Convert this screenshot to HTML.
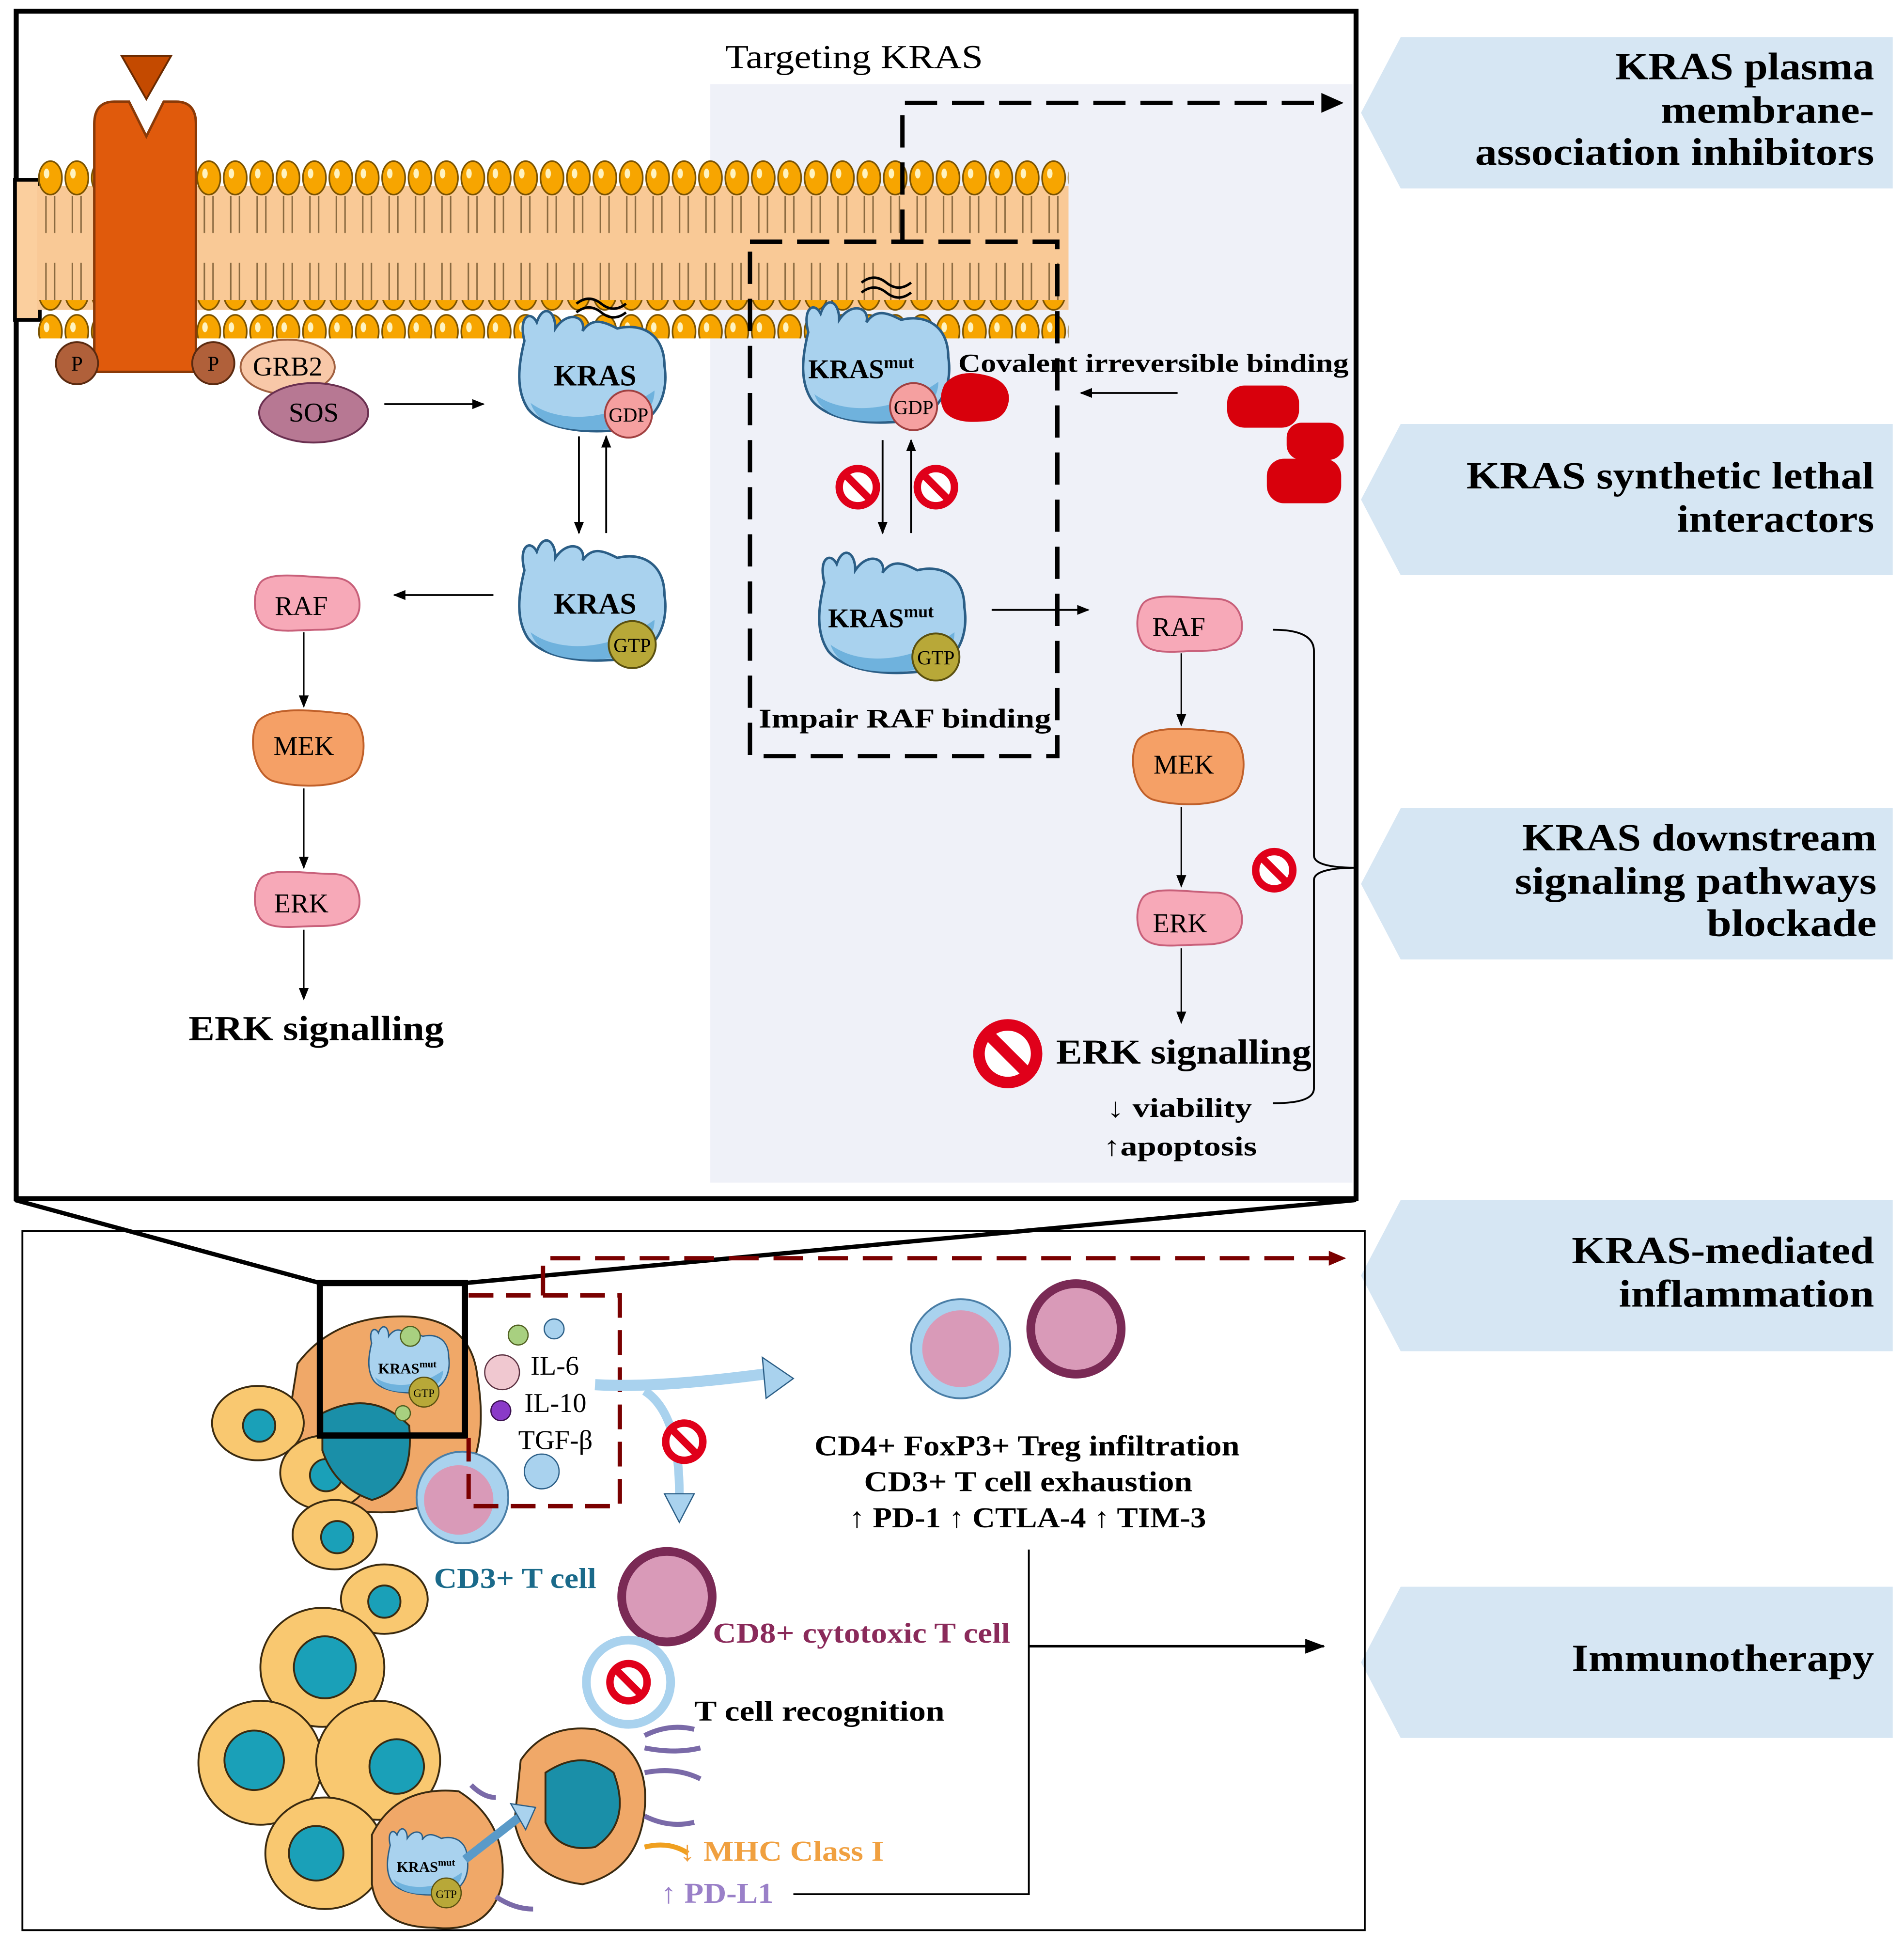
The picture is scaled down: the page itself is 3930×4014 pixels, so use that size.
<!DOCTYPE html>
<html><head><meta charset="utf-8"><style>
html,body{margin:0;padding:0;background:#fff;}
svg{display:block;}
text{font-family:"Liberation Serif",serif;}
</style></head><body>
<svg width="3930" height="4014" viewBox="0 0 1536 1569" xmlns="http://www.w3.org/2000/svg">
<defs>
<pattern id="heads" x="30" y="128" width="21.3" height="31" patternUnits="userSpaceOnUse">
<ellipse cx="10.6" cy="15.5" rx="9.3" ry="13.5" fill="#f7a500" stroke="#7a5200" stroke-width="1.3"/>
<ellipse cx="7.5" cy="12" rx="2.2" ry="4" fill="#fff3c0"/>
</pattern>
<pattern id="tails" x="30" y="158" width="21.3" height="84" patternUnits="userSpaceOnUse">
<path d="M7 0 V30 M14 0 V30 M7 54 V84 M14 54 V84" stroke="#8a6a40" stroke-width="1.2" fill="none"/>
</pattern>
<marker id="ar" markerWidth="10" markerHeight="10" refX="9" refY="5" orient="auto" markerUnits="userSpaceOnUse"><path d="M0 1 L10 5 L0 9 z" fill="#000"/></marker>
<marker id="arR" markerWidth="14" markerHeight="14" refX="13" refY="7" orient="auto" markerUnits="userSpaceOnUse"><path d="M0 1 L14 7 L0 13 z" fill="#7a0000"/></marker>
<marker id="arB" markerWidth="16" markerHeight="14" refX="15" refY="7" orient="auto" markerUnits="userSpaceOnUse"><path d="M0 1 L16 7 L0 13 z" fill="#000"/></marker>
<g id="kras">
<path d="M-55 -30 C-60 -50 -50 -55 -45 -45 C-40 -60 -30 -55 -30 -40 C-20 -55 -5 -50 -8 -38 C0 -50 10 -45 20 -40 C40 -45 58 -35 58 -10 C62 15 50 40 20 42 C-10 45 -40 40 -52 25 C-62 10 -60 -10 -55 -30 Z" fill="#a9d2ee" stroke="#2b5e86" stroke-width="2"/>
<path d="M-50 20 C-30 35 10 38 50 10 C50 30 30 42 0 42 C-30 42 -45 35 -50 20Z" fill="#6fb2dd"/>
</g>
<g id="stop"><circle r="15" fill="#fff" stroke="#e0001a" stroke-width="6"/><path d="M-10 -10 L10 10" stroke="#e0001a" stroke-width="6"/></g>
<g id="raf"><path d="M-38 -18 C-30 -28 0 -22 20 -22 C38 -22 42 -8 42 0 C42 14 30 20 10 20 C-10 20 -30 24 -38 14 C-44 6 -44 -10 -38 -18Z" fill="#f7a9b8" stroke="#c8607a" stroke-width="1.5"/></g>
<g id="mek"><path d="M-42 -20 C-30 -34 10 -28 30 -26 C46 -20 46 8 38 20 C28 34 -10 34 -30 28 C-46 22 -50 -8 -42 -20Z" fill="#f5a066" stroke="#c0602a" stroke-width="1.5"/></g>
</defs>

<!-- top box -->
<rect x="573" y="68" width="518" height="886" fill="#eff1f8"/>
<rect x="13" y="9" width="1081" height="958" fill="none" stroke="#000" stroke-width="4"/>
<text x="585" y="55" font-size="27" textLength="208" lengthAdjust="spacingAndGlyphs">Targeting KRAS</text>

<!-- membrane -->
<rect x="12" y="145" width="20" height="113" fill="#fbcf9e" stroke="#000" stroke-width="3"/>
<rect x="30" y="150" width="832" height="100" fill="#f9c996"/>
<rect x="30" y="158" width="832" height="84" fill="url(#tails)"/>
<rect x="30" y="128" width="832" height="31" fill="url(#heads)"/>
<rect x="30" y="242" width="832" height="31" fill="url(#heads)"/>

<!-- receptor -->
<path d="M76 100 Q76 82 92 82 L104 82 L118 110 L132 82 L142 82 Q158 82 158 100 L158 300 L76 300 Z" fill="#e05a0c" stroke="#8a3a08" stroke-width="2"/>
<path d="M98 45 L138 45 L118 80 Z" fill="#c44a00" stroke="#6a2a00" stroke-width="1.5"/>
<circle cx="62" cy="293" r="17" fill="#b0603a" stroke="#5a2a10" stroke-width="1.5"/><text x="62" y="299" font-size="17" text-anchor="middle">P</text>
<circle cx="172" cy="293" r="17" fill="#b0603a" stroke="#5a2a10" stroke-width="1.5"/><text x="172" y="299" font-size="17" text-anchor="middle">P</text>
<ellipse cx="232" cy="296" rx="38" ry="22" fill="#f8c8a8" stroke="#a06040" stroke-width="1.5"/><text x="232" y="303" font-size="22" text-anchor="middle">GRB2</text>
<ellipse cx="253" cy="333" rx="44" ry="24" fill="#b77893" stroke="#6a3050" stroke-width="1.5"/><text x="253" y="340" font-size="22" text-anchor="middle">SOS</text>
<line x1="310" y1="326" x2="390" y2="326" stroke="#000" stroke-width="1.5" marker-end="url(#ar)"/>

<!-- KRAS GDP -->
<path d="M465 245 q10 -8 20 0 q10 8 20 0 M465 252 q10 -8 20 0 q10 8 20 0" stroke="#000" stroke-width="2" fill="none"/>
<use href="#kras" transform="translate(478 305)"/>
<text x="480" y="311" font-size="24" font-weight="bold" text-anchor="middle">KRAS</text>
<circle cx="507" cy="334" r="19" fill="#f5a0a0" stroke="#a04040" stroke-width="1.5"/><text x="507" y="340" font-size="16" text-anchor="middle">GDP</text>
<line x1="467" y1="352" x2="467" y2="430" stroke="#000" stroke-width="1.5" marker-end="url(#ar)"/>
<line x1="489" y1="430" x2="489" y2="352" stroke="#000" stroke-width="1.5" marker-end="url(#ar)"/>
<use href="#kras" transform="translate(478 490)"/>
<text x="480" y="495" font-size="24" font-weight="bold" text-anchor="middle">KRAS</text>
<circle cx="510" cy="520" r="19" fill="#b8a838" stroke="#5a5010" stroke-width="1.5"/><text x="510" y="526" font-size="16" text-anchor="middle">GTP</text>
<line x1="398" y1="480" x2="318" y2="480" stroke="#000" stroke-width="1.5" marker-end="url(#ar)"/>

<!-- left cascade -->
<use href="#raf" transform="translate(248 488)"/><text x="243" y="496" font-size="22" text-anchor="middle">RAF</text>
<line x1="245" y1="510" x2="245" y2="570" stroke="#000" stroke-width="1.2" marker-end="url(#ar)"/>
<use href="#mek" transform="translate(250 602)"/><text x="245" y="609" font-size="22" text-anchor="middle">MEK</text>
<line x1="245" y1="636" x2="245" y2="700" stroke="#000" stroke-width="1.2" marker-end="url(#ar)"/>
<use href="#raf" transform="translate(248 727)"/><text x="243" y="736" font-size="22" text-anchor="middle">ERK</text>
<line x1="245" y1="750" x2="245" y2="806" stroke="#000" stroke-width="1.2" marker-end="url(#ar)"/>
<text x="152" y="839" font-size="28" font-weight="bold" textLength="206" lengthAdjust="spacingAndGlyphs">ERK signalling</text>

<!-- right dashed -->
<path d="M605 195 H853 V610 H605 Z" fill="none" stroke="#000" stroke-width="3.5" stroke-dasharray="26 12"/>
<path d="M728 195 V83 H1072" fill="none" stroke="#000" stroke-width="3.5" stroke-dasharray="26 12"/>
<path d="M1066 75 L1084 83 L1066 91Z" fill="#000"/>
<path d="M695 228 q10 -8 20 0 q10 8 20 0 M695 236 q10 -8 20 0 q10 8 20 0" stroke="#000" stroke-width="2" fill="none"/>
<use href="#kras" transform="translate(707 298)"/>
<text x="652" y="305" font-size="22" font-weight="bold">KRAS<tspan font-size="14" dy="-8">mut</tspan></text>
<circle cx="737" cy="328" r="19" fill="#f5a0a0" stroke="#a04040" stroke-width="1.5"/><text x="737" y="334" font-size="16" text-anchor="middle">GDP</text>
<path d="M762 310 q10 -12 30 -8 q22 4 22 20 q-2 18 -22 18 q-22 2 -30 -8 q-6 -10 0 -22Z" fill="#d8000c"/>
<text x="773" y="300" font-size="21" font-weight="bold" textLength="315" lengthAdjust="spacingAndGlyphs">Covalent irreversible binding</text>
<line x1="950" y1="317" x2="872" y2="317" stroke="#000" stroke-width="1.5" marker-end="url(#ar)"/>
<rect x="990" y="311" width="58" height="34" rx="14" fill="#d8000c"/>
<rect x="1038" y="341" width="46" height="30" rx="12" fill="#d8000c"/>
<rect x="1022" y="370" width="60" height="36" rx="14" fill="#d8000c"/>
<use href="#stop" transform="translate(692 393)"/>
<use href="#stop" transform="translate(755 393)"/>
<line x1="712" y1="355" x2="712" y2="430" stroke="#000" stroke-width="1.5" marker-end="url(#ar)"/>
<line x1="735" y1="430" x2="735" y2="355" stroke="#000" stroke-width="1.5" marker-end="url(#ar)"/>
<use href="#kras" transform="translate(720 500)"/>
<text x="668" y="506" font-size="22" font-weight="bold">KRAS<tspan font-size="14" dy="-8">mut</tspan></text>
<circle cx="755" cy="530" r="19" fill="#b8a838" stroke="#5a5010" stroke-width="1.5"/><text x="755" y="536" font-size="16" text-anchor="middle">GTP</text>
<text x="612" y="587" font-size="22" font-weight="bold" textLength="236" lengthAdjust="spacingAndGlyphs">Impair RAF binding</text>
<line x1="800" y1="492" x2="878" y2="492" stroke="#000" stroke-width="1.5" marker-end="url(#ar)"/>

<use href="#raf" transform="translate(960 505)"/><text x="951" y="513" font-size="22" text-anchor="middle">RAF</text>
<line x1="953" y1="527" x2="953" y2="585" stroke="#000" stroke-width="1.2" marker-end="url(#ar)"/>
<use href="#mek" transform="translate(960 617)"/><text x="955" y="624" font-size="22" text-anchor="middle">MEK</text>
<line x1="953" y1="651" x2="953" y2="715" stroke="#000" stroke-width="1.2" marker-end="url(#ar)"/>
<use href="#raf" transform="translate(960 742)"/><text x="952" y="752" font-size="22" text-anchor="middle">ERK</text>
<line x1="953" y1="765" x2="953" y2="825" stroke="#000" stroke-width="1.2" marker-end="url(#ar)"/>
<use href="#stop" transform="translate(1028 702)"/>
<g transform="translate(813 850) scale(1.55)"><use href="#stop"/></g>
<text x="852" y="858" font-size="28" font-weight="bold" textLength="206" lengthAdjust="spacingAndGlyphs">ERK signalling</text>
<text x="893" y="901" font-size="22" font-weight="bold" textLength="117" lengthAdjust="spacingAndGlyphs">↓ viability</text>
<text x="890" y="932" font-size="22" font-weight="bold" textLength="124" lengthAdjust="spacingAndGlyphs">↑apoptosis</text>
<path d="M1027 508 Q1060 508 1060 525 V690 Q1060 700 1095 700 Q1060 700 1060 710 V878 Q1060 890 1027 890" fill="none" stroke="#000" stroke-width="1.5"/>

<!-- right labels -->
<g fill="#d6e6f3">
<polygon points="1130,30 1527,30 1527,152 1130,152 1098,91"/>
<polygon points="1130,342 1527,342 1527,464 1130,464 1098,403"/>
<polygon points="1130,652 1527,652 1527,774 1130,774 1098,713"/>
<polygon points="1130,968 1527,968 1527,1090 1130,1090 1098,1029"/>
<polygon points="1130,1280 1527,1280 1527,1402 1130,1402 1098,1341"/>
</g>
<g font-size="31" font-weight="bold" text-anchor="end">
<text x="1512" y="64" textLength="209" lengthAdjust="spacingAndGlyphs">KRAS plasma</text>
<text x="1512" y="99" textLength="172" lengthAdjust="spacingAndGlyphs">membrane-</text>
<text x="1512" y="133" textLength="322" lengthAdjust="spacingAndGlyphs">association inhibitors</text>
<text x="1512" y="394" textLength="329" lengthAdjust="spacingAndGlyphs">KRAS synthetic lethal</text>
<text x="1512" y="429" textLength="159" lengthAdjust="spacingAndGlyphs">interactors</text>
<text x="1514" y="686" textLength="286" lengthAdjust="spacingAndGlyphs">KRAS downstream</text>
<text x="1514" y="721" textLength="292" lengthAdjust="spacingAndGlyphs">signaling pathways</text>
<text x="1514" y="755" textLength="137" lengthAdjust="spacingAndGlyphs">blockade</text>
<text x="1512" y="1019" textLength="244" lengthAdjust="spacingAndGlyphs">KRAS-mediated</text>
<text x="1512" y="1054" textLength="206" lengthAdjust="spacingAndGlyphs">inflammation</text>
<text x="1512" y="1348" textLength="244" lengthAdjust="spacingAndGlyphs">Immunotherapy</text>
</g>

<!-- bottom box -->
<rect x="18" y="993" width="1083" height="564" fill="none" stroke="#000" stroke-width="1.5"/>
<line x1="12" y1="968" x2="258" y2="1035" stroke="#000" stroke-width="3.5"/>
<line x1="1094" y1="968" x2="375" y2="1035" stroke="#000" stroke-width="3.5"/>

<!-- cells -->
<g stroke="#3a2a10" stroke-width="1.5">
<path d="M240 1100 Q270 1060 330 1062 Q380 1065 385 1110 Q395 1170 370 1200 Q330 1230 270 1215 Q230 1190 232 1150 Z" fill="#f0a868"/>
<ellipse cx="208" cy="1148" rx="37" ry="30" fill="#f9c870"/><circle cx="209" cy="1150" r="13" fill="#1aa0b8"/>
<ellipse cx="262" cy="1188" rx="36" ry="30" fill="#f9c870"/><circle cx="263" cy="1190" r="13" fill="#1aa0b8"/>
<ellipse cx="270" cy="1238" rx="34" ry="28" fill="#f9c870"/><circle cx="272" cy="1240" r="13" fill="#1aa0b8"/>
<ellipse cx="310" cy="1290" rx="35" ry="28" fill="#f9c870"/><circle cx="310" cy="1292" r="13" fill="#1aa0b8"/>
<ellipse cx="260" cy="1345" rx="50" ry="48" fill="#f9c870"/><circle cx="262" cy="1345" r="25" fill="#1aa0b8"/>
<ellipse cx="210" cy="1422" rx="50" ry="50" fill="#f9c870"/><circle cx="205" cy="1420" r="24" fill="#1aa0b8"/>
<ellipse cx="305" cy="1420" rx="50" ry="48" fill="#f9c870"/><circle cx="320" cy="1425" r="22" fill="#1aa0b8"/>
<ellipse cx="262" cy="1495" rx="48" ry="45" fill="#f9c870"/><circle cx="255" cy="1495" r="22" fill="#1aa0b8"/>
<path d="M300 1480 Q320 1440 370 1445 Q410 1470 405 1520 Q395 1560 350 1555 Q305 1555 300 1520 Z" fill="#f0a868"/>
<path d="M420 1420 Q440 1390 480 1395 Q525 1410 520 1460 Q515 1510 470 1520 Q425 1515 415 1470 Z" fill="#f0a868"/>
<path d="M440 1430 Q470 1410 495 1430 Q510 1470 480 1490 Q450 1495 440 1470 Z" fill="#1a8fa8"/>
<path d="M260 1140 Q300 1120 330 1150 Q335 1200 300 1210 Q270 1200 260 1170Z" fill="#1a8fa8"/>
</g>
<g stroke="#7a6aa8" stroke-width="4" fill="none">
<path d="M520 1400 q20 -10 40 -5 M520 1410 q25 5 45 0 M520 1430 q25 -5 45 5 M520 1465 q20 10 40 5 M380 1440 q10 10 20 10 M400 1530 q15 10 30 10"/>
</g>
<path d="M520 1490 q20 -5 35 5" stroke="#f0a020" stroke-width="4" fill="none"/>
<use href="#kras" transform="translate(330 1100) scale(0.55)"/>
<text x="305" y="1108" font-size="12" font-weight="bold" font-family="Liberation Sans">KRAS<tspan font-size="8" dy="-5">mut</tspan></text>
<circle cx="342" cy="1123" r="12" fill="#b8a838" stroke="#5a5010"/><text x="342" y="1127" font-size="9" text-anchor="middle">GTP</text>
<circle cx="331" cy="1078" r="8" fill="#a8d080" stroke="#506020"/><circle cx="325" cy="1140" r="6" fill="#a8d080" stroke="#506020"/>
<use href="#kras" transform="translate(345 1505) scale(0.55)"/>
<text x="320" y="1510" font-size="12" font-weight="bold" font-family="Liberation Sans">KRAS<tspan font-size="8" dy="-5">mut</tspan></text>
<circle cx="360" cy="1527" r="12" fill="#b8a838" stroke="#5a5010"/><text x="360" y="1531" font-size="9" text-anchor="middle">GTP</text>
<path d="M375 1500 L420 1465" stroke="#5a9ac8" stroke-width="7"/><path d="M412 1455 L432 1458 L424 1476Z" fill="#a9d2ee" stroke="#2b5e86"/>
<rect x="258" y="1035" width="117" height="123" fill="none" stroke="#000" stroke-width="5"/>

<!-- T cells -->
<circle cx="373" cy="1208" r="37" fill="#a9d2ee" stroke="#4a7ea6" stroke-width="1.5"/><circle cx="370" cy="1210" r="28" fill="#d99ab8"/>
<circle cx="775" cy="1088" r="40" fill="#a9d2ee" stroke="#4a7ea6" stroke-width="1.5"/><circle cx="775" cy="1088" r="31" fill="#d99ab8"/>
<circle cx="868" cy="1072" r="40" fill="#7a2a55"/><circle cx="868" cy="1072" r="33" fill="#d99ab8"/>
<circle cx="538" cy="1288" r="40" fill="#7a2a55"/><circle cx="538" cy="1288" r="33" fill="#d99ab8"/>

<!-- dashed red -->
<path d="M378 1045 H500 V1215 H378 V1160" fill="none" stroke="#7a0000" stroke-width="3.5" stroke-dasharray="20 10"/>
<path d="M438 1045 V1015 H1085" fill="none" stroke="#7a0000" stroke-width="3.5" stroke-dasharray="24 12" marker-end="url(#arR)"/>
<circle cx="418" cy="1077" r="8" fill="#a8d080" stroke="#506020"/><circle cx="447" cy="1072" r="8" fill="#a9d2ee" stroke="#2b5e86"/>
<circle cx="405" cy="1107" r="14" fill="#f0c8d0" stroke="#5a3040"/><circle cx="404" cy="1138" r="8" fill="#8a3ac8" stroke="#3a1050"/>
<circle cx="437" cy="1187" r="14" fill="#a9d2ee" stroke="#2b5e86"/>
<text x="428" y="1109" font-size="22">IL-6</text><text x="423" y="1139" font-size="22">IL-10</text><text x="418" y="1169" font-size="22">TGF-β</text>

<!-- blue arrows -->
<path d="M480 1117 Q530 1120 620 1108" stroke="#a9d2ee" stroke-width="9" fill="none"/>
<path d="M615 1095 L640 1112 L618 1128Z" fill="#a9d2ee" stroke="#2b5e86"/>
<path d="M520 1122 Q548 1140 548 1205" stroke="#a9d2ee" stroke-width="7" fill="none"/>
<path d="M536 1205 L560 1205 L548 1228Z" fill="#a9d2ee" stroke="#2b5e86"/>
<use href="#stop" transform="translate(552 1163)"/>
<circle cx="507" cy="1357" r="34" fill="none" stroke="#a9d2ee" stroke-width="7"/>
<use href="#stop" transform="translate(507 1357)"/>

<text x="657" y="1174" font-size="23" font-weight="bold" textLength="343" lengthAdjust="spacingAndGlyphs">CD4+ FoxP3+ Treg infiltration</text>
<text x="697" y="1203" font-size="23" font-weight="bold" textLength="265" lengthAdjust="spacingAndGlyphs">CD3+ T cell exhaustion</text>
<text x="685" y="1232" font-size="23" font-weight="bold" textLength="288" lengthAdjust="spacingAndGlyphs">↑ PD-1 ↑ CTLA-4 ↑ TIM-3</text>
<text x="350" y="1281" font-size="23" font-weight="bold" fill="#1a6a8a" textLength="131" lengthAdjust="spacingAndGlyphs">CD3+ T cell</text>
<text x="575" y="1325" font-size="23" font-weight="bold" fill="#8a2a5a" textLength="240" lengthAdjust="spacingAndGlyphs">CD8+ cytotoxic T cell</text>
<text x="560" y="1388" font-size="23" font-weight="bold" textLength="202" lengthAdjust="spacingAndGlyphs">T cell recognition</text>
<text x="548" y="1501" font-size="23" font-weight="bold" fill="#f0a040" textLength="165" lengthAdjust="spacingAndGlyphs">↓ MHC Class I</text>
<text x="533" y="1535" font-size="23" font-weight="bold" fill="#9a80c8" textLength="91" lengthAdjust="spacingAndGlyphs">↑ PD-L1</text>
<path d="M830 1250 V1528 H640" fill="none" stroke="#000" stroke-width="1.5"/>
<line x1="830" y1="1328" x2="1068" y2="1328" stroke="#000" stroke-width="2" marker-end="url(#arB)"/>
</svg>
</body></html>
